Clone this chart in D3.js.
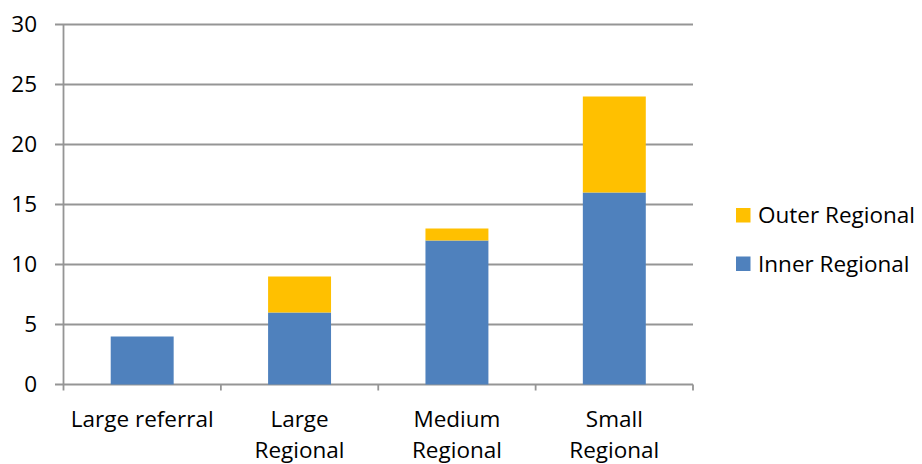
<!DOCTYPE html>
<html>
<head>
<meta charset="utf-8">
<script src="https://cdn.jsdelivr.net/npm/d3@7"></script>
<style>
  html, body { margin: 0; padding: 0; background: #fff; }
  svg text { font-family: "Open Sans", Lato, sans-serif; fill: #000; }
</style>
</head>
<body>
<svg id="chart" width="922" height="464"></svg>
<script>
// Hospital groups and counts per remoteness class
const categories = [["Large referral"], ["Large", "Regional"], ["Medium", "Regional"], ["Small", "Regional"]];
const categoryKeys = ["Large referral", "Large Regional", "Medium Regional", "Small Regional"];
const innerRegional = [4, 6, 12, 16];
const outerRegional = [0, 3, 1, 8];
const seriesNames = ["Inner Regional", "Outer Regional"];
const seriesColors = ["#4F81BD", "#FFC000"];
const yTicks = [0, 5, 10, 15, 20, 25, 30];

const fontSize = 22.5;
const svg = d3.select("#chart");
const plot = { left: 63.5, right: 693, top: 24.5, bottom: 384.5 };

const x = d3.scaleBand().domain(categoryKeys).range([plot.left, plot.right]).paddingInner(0.6).paddingOuter(0.3);
const y = d3.scaleLinear().domain([0, 30]).range([plot.bottom, plot.top]);

const rows = categoryKeys.map((k, i) => ({ key: k, "Inner Regional": innerRegional[i], "Outer Regional": outerRegional[i] }));
const stacked = d3.stack().keys(seriesNames)(rows);

const gridColor = "#959595";

// horizontal gridlines with left tick stubs
svg.append("g").selectAll("line").data(yTicks).join("line")
  .attr("x1", plot.left - 8.5).attr("x2", plot.right)
  .attr("y1", d => y(d)).attr("y2", d => y(d))
  .attr("stroke", gridColor).attr("stroke-width", 1.8);

// y tick labels
svg.append("g").selectAll("text").data(yTicks).join("text")
  .attr("x", 37).attr("y", d => y(d) + 7.8)
  .attr("text-anchor", "end").attr("font-size", fontSize)
  .text(d => d);

// bars
svg.append("g").selectAll("g").data(stacked).join("g")
  .attr("fill", (d, i) => seriesColors[i])
  .selectAll("rect").data(d => d.filter(s => s[1] - s[0] > 0)).join("rect")
  .attr("x", d => x(d.data.key))
  .attr("width", x.bandwidth())
  .attr("y", d => y(d[1]))
  .attr("height", d => y(d[0]) - y(d[1]));

// y axis line
svg.append("line")
  .attr("x1", plot.left).attr("x2", plot.left)
  .attr("y1", y(30)).attr("y2", y(0))
  .attr("stroke", gridColor).attr("stroke-width", 1.8);

// x axis with category boundary ticks
const boundaries = d3.range(categoryKeys.length + 1).map(i => plot.left + i * (plot.right - plot.left) / categoryKeys.length);
svg.append("g").selectAll("line").data(boundaries).join("line")
  .attr("x1", d => d).attr("x2", d => d)
  .attr("y1", y(0)).attr("y2", y(0) + 6)
  .attr("stroke", gridColor).attr("stroke-width", 1.8);

// category labels
const labels = svg.append("g").selectAll("text").data(categories).join("text")
  .attr("text-anchor", "middle").attr("font-size", fontSize)
  .attr("x", (d, i) => x(categoryKeys[i]) + x.bandwidth() / 2)
  .attr("y", 426.5);
labels.selectAll("tspan").data(d => d).join("tspan")
  .attr("x", function () { return this.parentNode.getAttribute("x"); })
  .attr("dy", (d, i) => i === 0 ? 0 : 31)
  .text(d => d);

// legend
const legendItems = [
  { name: "Outer Regional", color: seriesColors[1], y: 208 },
  { name: "Inner Regional", color: seriesColors[0], y: 256.5 }
];
const lg = svg.append("g").selectAll("g").data(legendItems).join("g");
lg.append("rect").attr("x", 736).attr("y", d => d.y).attr("width", 14.5).attr("height", 14.5).attr("fill", d => d.color);
lg.append("text").attr("x", 758).attr("y", d => d.y + 15).attr("font-size", fontSize).text(d => d.name);
</script>
</body>
</html>
